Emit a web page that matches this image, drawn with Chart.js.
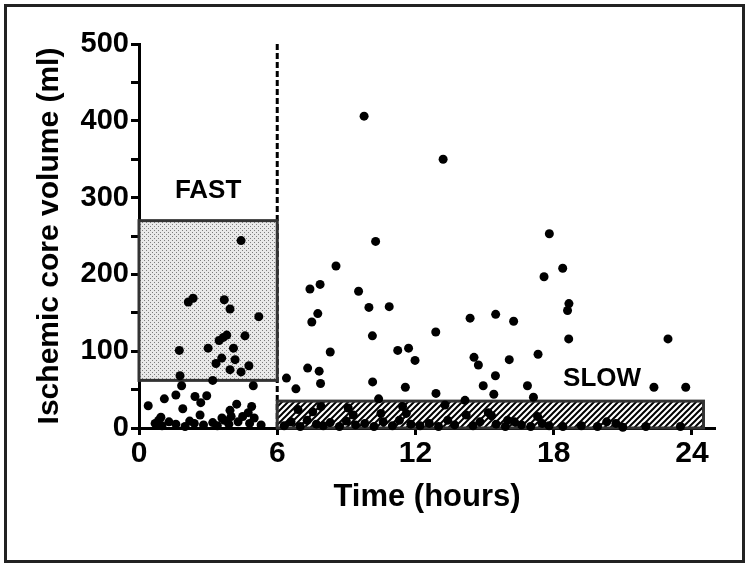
<!DOCTYPE html>
<html>
<head>
<meta charset="utf-8">
<script src="https://cdn.jsdelivr.net/npm/chart.js@4.4.1/dist/chart.umd.min.js"></script>
<style>
  html, body { margin: 0; padding: 0; background: #fff; }
  #wrap { position: relative; width: 749px; height: 567px; }
  #frame { position: absolute; left: 4px; top: 4px; right: 4px; bottom: 4px; border: 3px solid #222; pointer-events: none; }
</style>
</head>
<body>
<div id="wrap">
  <canvas id="coreChart" width="749" height="567"></canvas>
  <div id="frame"></div>
</div>
<script>
// Time from onset (hours) and ischemic core volume (ml)
const timeHours = [
  4.43, 2.14, 2.35, 3.70, 3.95, 5.20, 4.60, 3.81, 3.66, 3.48, 4.10, 3.00, 1.75, 3.59, 3.34, 4.17, 4.77, 3.95, 4.43, 1.78,
  3.20, 1.85, 4.96, 0.40, 1.10, 1.60, 2.43, 2.68, 2.94, 1.90, 2.65, 4.24, 3.95, 4.89, 4.74, 0.95,
  0.70, 1.00, 1.30, 1.60, 2.00, 2.20, 2.40, 2.80, 3.20, 3.40, 3.70, 3.90, 4.30, 4.80, 5.30, 0.85, 3.60, 4.00, 4.50, 5.00,
  9.77, 13.2, 10.27, 8.55, 7.42, 7.86, 9.53, 7.76, 7.50, 9.98, 10.86, 14.37, 15.48, 10.13, 12.88, 8.30, 11.23, 11.70, 11.98, 14.54,
  14.73, 15.47, 7.32, 7.82, 7.88, 6.40, 6.81, 10.14, 11.56, 12.89, 14.94, 15.40, 17.81, 18.39, 17.58, 18.66, 18.60, 16.26, 18.65, 22.96,
  17.32, 16.07, 16.86, 17.12, 22.35, 23.73, 10.40, 14.15, 13.28,
  6.90, 7.54, 7.90, 9.08, 9.30, 10.50, 11.44, 11.60, 15.16, 13.40, 14.20, 15.30, 16.00, 16.30, 17.30, 17.50, 20.30, 20.70, 19.90, 23.50,
  6.30, 6.60, 7.00, 7.30, 7.70, 8.00, 8.30, 8.70, 9.00, 9.40, 9.80, 10.20, 10.60, 11.00, 11.30, 11.80,
  12.20, 12.60, 13.00, 13.70, 14.50, 14.80, 15.50, 15.90, 16.60, 17.00, 17.80, 18.40, 19.20, 21.00, 22.00
];
const coreVolume = [
  244, 164, 169, 167, 155, 145, 120, 121, 118, 114, 104, 104, 101, 91, 84, 89, 81, 76, 73, 68,
  62, 55, 55, 29, 38, 43, 41, 33, 42, 25, 17, 31, 23, 28, 20, 14,
  6, 3, 8, 5, 2, 9, 6, 4, 7, 3, 10, 5, 8, 6, 4, 10, 13, 15, 15, 13,
  406, 350, 243, 211, 181, 187, 178, 149, 138, 157, 158, 143, 148, 120, 125, 99, 101, 104, 88, 92,
  82, 68, 78, 74, 58, 65, 51, 60, 53, 45, 55, 44, 253, 208, 197, 162, 153, 139, 116, 116,
  96, 89, 55, 40, 53, 53, 38, 36, 30,
  24, 21, 28, 26, 17, 19, 28, 19, 20, 10, 17, 16, 10, 8, 15, 6, 8, 6, 2, 2,
  3, 8, 2, 10, 5, 3, 7, 2, 9, 4, 6, 2, 8, 3, 10, 5,
  3, 6, 2, 4, 3, 8, 5, 2, 4, 2, 3, 2, 3, 1, 2
];

const xTicks = [0, 6, 12, 18, 24];
const yTicks = [0, 100, 200, 300, 400, 500];
const onsetCut = 6;
// [x from, x to, y from, y to]
const fastBox = [0, 6, 62, 270];
const slowBox = [6, 24.5, 0, 35];
const fastLabel = [3, 309];
const slowLabel = [20.1, 64];

const points = timeHours.map((t, i) => ({ x: t, y: coreVolume[i] }));

function stipple() {
  const c = document.createElement("canvas");
  c.width = 4; c.height = 4;
  const g = c.getContext("2d");
  g.fillStyle = "#e9e9e9";
  g.fillRect(0, 0, 4, 4);
  g.fillStyle = "#7d7d7d";
  g.fillRect(0, 0, 1, 1);
  g.fillRect(2, 2, 1, 1);
  return g.createPattern(c, "repeat");
}

function hatch() {
  const c = document.createElement("canvas");
  c.width = 6; c.height = 6;
  const g = c.getContext("2d");
  g.fillStyle = "#fff";
  g.fillRect(0, 0, 6, 6);
  g.strokeStyle = "#000";
  g.lineWidth = 2;
  g.beginPath();
  g.moveTo(0, 6); g.lineTo(6, 0);
  g.moveTo(-3, 3); g.lineTo(3, -3);
  g.moveTo(3, 9); g.lineTo(9, 3);
  g.stroke();
  return g.createPattern(c, "repeat");
}

const boxesPlugin = {
  id: "boxes",
  beforeDatasetsDraw(chart) {
    const { ctx, scales: { x, y } } = chart;
    ctx.save();

    // dashed line at 6 h
    ctx.strokeStyle = "#000";
    ctx.lineWidth = 3;
    ctx.setLineDash([6, 3]);
    ctx.beginPath();
    ctx.moveTo(x.getPixelForValue(onsetCut), y.getPixelForValue(yTicks[yTicks.length - 1]));
    ctx.lineTo(x.getPixelForValue(onsetCut), y.getPixelForValue(0));
    ctx.stroke();
    ctx.setLineDash([]);

    function box(b, fill) {
      const l = x.getPixelForValue(b[0]), r = x.getPixelForValue(b[1]);
      const t = y.getPixelForValue(b[3]), btm = y.getPixelForValue(b[2]);
      ctx.fillStyle = fill;
      ctx.fillRect(l, t, r - l, btm - t);
      ctx.strokeStyle = "#333";
      ctx.lineWidth = 3;
      ctx.strokeRect(l, t, r - l, btm - t);
    }
    box(fastBox, stipple());
    box(slowBox, hatch());

    ctx.fillStyle = "#000";
    ctx.font = "bold 26px 'Liberation Sans', Arial, sans-serif";
    ctx.textAlign = "center";
    ctx.textBaseline = "middle";
    ctx.fillText("FAST", x.getPixelForValue(fastLabel[0]), y.getPixelForValue(fastLabel[1]));
    ctx.fillText("SLOW", x.getPixelForValue(slowLabel[0]), y.getPixelForValue(slowLabel[1]));
    ctx.restore();
  }
};

const fontFamily = "'Liberation Sans', Arial, sans-serif";

new Chart(document.getElementById("coreChart"), {
  type: "scatter",
  data: {
    datasets: [
      {
        data: points,
        backgroundColor: "#000",
        borderWidth: 0,
        pointRadius: 4.5,
        clip: false,
      },
    ],
  },
  options: {
    responsive: false,
    animation: false,
    layout: { padding: { left: 10, top: 44, right: 34, bottom: 0 } },
    plugins: {
      legend: { display: false },
      tooltip: { enabled: false },
    },
    scales: {
      x: {
        type: "linear",
        min: 0,
        max: 25,
        afterBuildTicks: (scale) => {
          scale.ticks = xTicks.map((v) => ({ value: v }));
        },
        afterFit: (scale) => { scale.height = 139; },
        border: { color: "#000", width: 3 },
        grid: { drawOnChartArea: false, tickLength: 7, tickWidth: 3, tickColor: "#000" },
        ticks: {
          color: "#000",
          padding: 1,
          font: { family: fontFamily, size: 30, weight: "bold" },
        },
        title: {
          display: true,
          text: "Time (hours)",
          color: "#000",
          padding: { top: 0, bottom: 51 },
          font: { family: fontFamily, size: 31, weight: "bold" },
        },
      },
      y: {
        min: 0,
        max: 500,
        ticks: {
          stepSize: 50,
          color: "#000",
          padding: 2,
          font: { family: fontFamily, size: 29, weight: "bold" },
          callback: (v) => (yTicks.includes(v) ? v : ""),
        },
        afterFit: (scale) => { scale.width = 129; },
        border: { color: "#000", width: 3 },
        grid: { drawOnChartArea: false, tickLength: 8, tickWidth: 3, tickColor: "#000" },
        title: {
          display: true,
          text: "Ischemic core volume (ml)",
          color: "#000",
          padding: { top: 22, bottom: 0 },
          font: { family: fontFamily, size: 30, weight: "bold" },
        },
      },
    },
  },
  plugins: [boxesPlugin],
});
</script>
</body>
</html>
